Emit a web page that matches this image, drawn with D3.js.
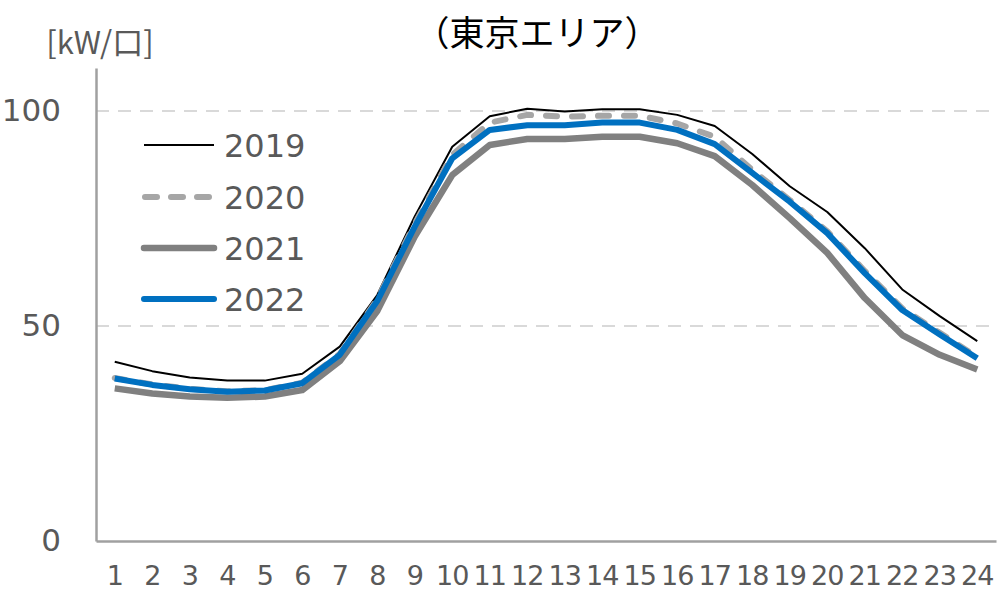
<!DOCTYPE html>
<html>
<head>
<meta charset="utf-8">
<script src="https://cdn.jsdelivr.net/npm/d3@7"></script>
<style>
  html, body { margin: 0; padding: 0; background: #fff; }
  svg { display: block; }
</style>
</head>
<body>
<svg id="chart" width="998" height="598"></svg>
<script>
// Hourly load per household, Tokyo area (kW per unit)
const hours = d3.range(1, 25);
const yTicks = [0, 50, 100];
const gridValues = [50, 100];

const load2019 = [41.7, 39.5, 38.0, 37.3, 37.3, 38.9, 45.2, 57.2, 75.5, 91.7, 98.8, 100.5,
                  99.9, 100.4, 100.4, 99.1, 96.5, 90.0, 82.5, 76.5, 68.1, 58.5, 52.3, 46.5];
const load2020 = [37.9, 36.4, 35.4, 34.8, 35.1, 36.8, 43.5, 56.2, 73.8, 89.8, 97.3, 99.1,
                  98.7, 98.9, 98.9, 97.1, 94.0, 86.3, 79.3, 72.0, 62.8, 54.1, 48.4, 42.8];
const load2021 = [35.5, 34.3, 33.6, 33.3, 33.6, 35.1, 41.8, 53.5, 70.8, 85.1, 92.1, 93.5,
                  93.5, 94.0, 94.0, 92.5, 89.5, 82.8, 75.1, 67.0, 56.5, 47.9, 43.3, 39.9];
const load2022 = [37.8, 36.3, 35.3, 34.7, 35.0, 36.7, 43.3, 55.8, 73.1, 89.0, 95.6, 96.7,
                  96.7, 97.3, 97.3, 95.6, 92.3, 85.6, 78.9, 71.6, 62.3, 53.7, 48.0, 42.5];

const seriesNames = ["2019", "2020", "2021", "2022"];
const seriesValues = [load2019, load2020, load2021, load2022];

const styles = {
  "2019": { color: "#000000", width: 2,   dash: null },
  "2020": { color: "#a6a6a6", width: 6,   dash: "11,15" },
  "2021": { color: "#808080", width: 6.5, dash: null },
  "2022": { color: "#0070c0", width: 6,   dash: null }
};

const svg = d3.select("#chart");
const plotLeft = 96, plotRight = 996, plotBottom = 541, plotTop = 68;

const x = d3.scaleBand().domain(hours).range([plotLeft, plotRight]);
const xc = h => x(h) + x.bandwidth() / 2;
const y = d3.scaleLinear().domain([0, 110]).range([plotBottom, plotTop]);

const textColor = "#595959";
const axisColor = "#a0a0a0";

// Horizontal dashed gridlines
svg.append("g")
  .selectAll("line")
  .data(gridValues)
  .join("line")
  .attr("x1", plotLeft).attr("x2", plotRight)
  .attr("y1", d => y(d)).attr("y2", d => y(d))
  .attr("stroke", "#d9d9d9")
  .attr("stroke-width", 2)
  .attr("stroke-dasharray", "13,9");

// Y axis
const yAxis = svg.append("g")
  .attr("transform", `translate(${plotLeft},0)`)
  .call(d3.axisLeft(y).tickValues(yTicks).tickSize(0).tickPadding(35));
yAxis.select(".domain").attr("stroke", axisColor).attr("stroke-width", 2.5);
yAxis.selectAll("text")
  .attr("fill", textColor)
  .style("font-family", "'DejaVu Sans', sans-serif")
  .style("font-size", "31px");

// X axis
const xAxis = svg.append("g")
  .attr("transform", `translate(0,${plotBottom})`)
  .call(d3.axisBottom(x).tickSize(0).tickPadding(25));
xAxis.select(".domain").attr("stroke", axisColor).attr("stroke-width", 2.5);
xAxis.selectAll("text")
  .attr("fill", textColor)
  .style("font-family", "'DejaVu Sans', sans-serif")
  .style("font-size", "27px")
  .attr("letter-spacing", "-1px");

// Series lines
const line = d3.line()
  .x((d, i) => xc(hours[i]))
  .y(d => y(d));

const lines = svg.append("g");
seriesNames.forEach((name, k) => {
  const s = styles[name];
  lines.append("path")
    .datum(seriesValues[k])
    .attr("d", line)
    .attr("fill", "none")
    .attr("stroke", s.color)
    .attr("stroke-width", s.width)
    .attr("stroke-linejoin", "round")
    .attr("stroke-linecap", s.dash ? "round" : "butt")
    .attr("stroke-dasharray", s.dash);
});

// Legend
const legend = svg.append("g");
const legendY = [145, 197, 248, 299];
seriesNames.forEach((name, k) => {
  const s = styles[name];
  legend.append("line")
    .attr("x1", s.dash ? 145 : 144).attr("x2", 214)
    .attr("y1", legendY[k]).attr("y2", legendY[k])
    .attr("stroke", s.color)
    .attr("stroke-width", s.width)
    .attr("stroke-linecap", name === "2019" ? "butt" : "round")
    .attr("stroke-dasharray", s.dash ? "12,14" : null);
  legend.append("text")
    .attr("x", 224)
    .attr("y", legendY[k] + 11.5)
    .attr("fill", textColor)
    .style("font-family", "'DejaVu Sans', sans-serif")
    .style("font-size", "32px")
    .text(name);
});

// Unit label and title
svg.append("text")
  .attr("x", 100).attr("y", 54)
  .attr("text-anchor", "middle")
  .attr("fill", textColor)
  .style("font-family", "'Noto Sans CJK JP', sans-serif")
  .style("font-size", "31px")
  .text("[kW/口]");

svg.append("text")
  .attr("x", 537).attr("y", 46)
  .attr("text-anchor", "middle")
  .attr("fill", "#000")
  .style("font-family", "'Noto Sans CJK JP', sans-serif")
  .style("font-size", "35px")
  .text("（東京エリア）");
</script>
</body>
</html>
